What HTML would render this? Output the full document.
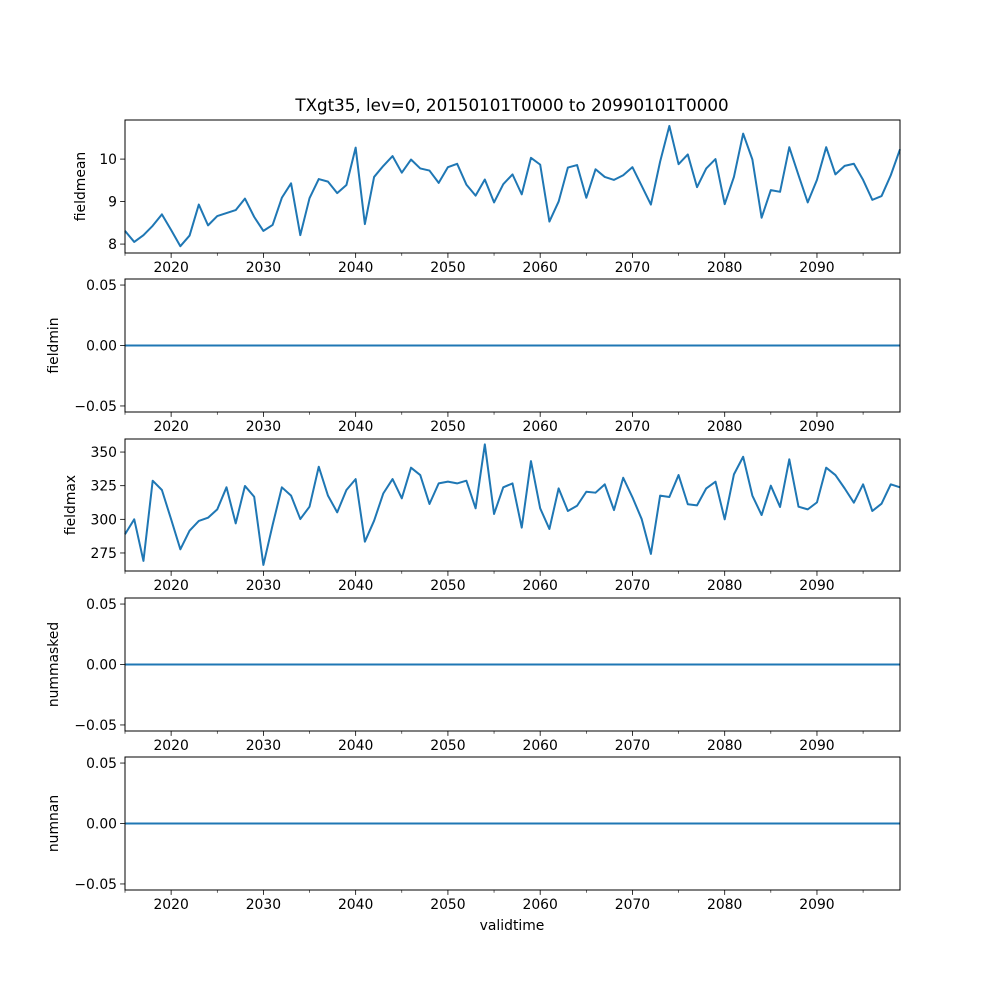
<!DOCTYPE html>
<html><head><meta charset="utf-8"><style>
body{margin:0;background:#fff}
svg{display:block;font-family:"DejaVu Sans","Liberation Sans",sans-serif}
</style></head><body>
<svg id="fig" width="1000" height="1000" viewBox="0 0 1000 1000"></svg>
<script>
const years = [];
for (let y = 2015; y <= 2099; y++) years.push(y);
const fieldmean = [8.31,8.05,8.21,8.43,8.70,8.33,7.95,8.20,8.93,8.44,8.66,8.73,8.80,9.07,8.64,8.31,8.45,9.09,9.43,8.21,9.08,9.53,9.47,9.20,9.39,10.27,8.47,9.58,9.84,10.07,9.68,9.99,9.78,9.73,9.44,9.81,9.89,9.40,9.14,9.52,8.98,9.41,9.64,9.17,10.03,9.87,8.53,9.00,9.80,9.86,9.09,9.76,9.58,9.51,9.62,9.81,9.37,8.93,9.94,10.78,9.88,10.11,9.34,9.78,10.00,8.94,9.58,10.60,9.99,8.62,9.27,9.23,10.28,9.62,8.98,9.51,10.28,9.64,9.84,9.89,9.51,9.04,9.13,9.62,10.23];
const fieldmax = [288.9,300.0,269.1,328.7,321.8,300.0,277.7,291.6,298.8,301.2,307.4,323.8,297.0,324.8,316.8,266.1,295.8,323.8,317.6,300.2,309.4,339.1,317.6,305.2,321.8,329.9,283.4,299.0,319.3,329.9,315.6,338.4,332.9,311.4,326.7,328.0,326.7,328.7,308.2,355.7,304.0,323.8,326.7,293.8,343.3,308.2,292.8,323.0,306.2,310.1,320.5,319.8,326.0,306.9,330.9,316.4,300.2,274.3,317.6,316.6,332.9,311.2,310.4,323.0,328.0,300.0,333.4,346.5,317.6,303.2,325.0,309.2,344.6,309.4,307.4,312.6,338.4,332.9,323.0,312.4,326.0,306.2,311.6,326.0,323.8];
const fieldmin = years.map(() => 0);
const nummasked = years.map(() => 0);
const numnan = years.map(() => 0);
const xTicks = [2020,2030,2040,2050,2060,2070,2080,2090];
const xMinor = [2015,2025,2035,2045,2055,2065,2075,2085,2095];
const meanTicks = [8,9,10];
const maxTicks = [275,300,325,350];
const zeroTicks = [-0.05,0,0.05];

const NS = "http://www.w3.org/2000/svg";
const svg = document.getElementById('fig');
function el(tag, attrs, parent, text) {
  const e = document.createElementNS(NS, tag);
  for (const k in attrs) e.setAttribute(k, attrs[k]);
  if (text !== undefined) e.textContent = text;
  (parent || svg).appendChild(e);
  return e;
}
const L = 125, R = 900;
const xs = v => L + (v - 2015) / (2099 - 2015) * (R - L);

const panels = [
  {name:'fieldmean', top:120, bot:253, lo:7.79, hi:10.92, data:fieldmean, ticks:meanTicks, fmt:v=>String(v), lx:85},
  {name:'fieldmin', top:279, bot:412, lo:-0.055, hi:0.055, data:fieldmin, ticks:zeroTicks, fmt:v=>v.toFixed(2).replace('-','\u2212'), lx:58},
  {name:'fieldmax', top:439, bot:571, lo:261.6, hi:359.7, data:fieldmax, ticks:maxTicks, fmt:v=>String(v), lx:75},
  {name:'nummasked', top:598, bot:731, lo:-0.055, hi:0.055, data:nummasked, ticks:zeroTicks, fmt:v=>v.toFixed(2).replace('-','\u2212'), lx:58},
  {name:'numnan', top:757, bot:890, lo:-0.055, hi:0.055, data:numnan, ticks:zeroTicks, fmt:v=>v.toFixed(2).replace('-','\u2212'), lx:58}
];

panels.forEach(p => {
  const g = el('g', {});
  
  
  const ys = v => p.bot - (v - p.lo) / (p.hi - p.lo) * (p.bot - p.top);
  const pts = p.data.map((v, i) => xs(years[i]).toFixed(2) + ',' + ys(v).toFixed(2)).join(' ');
  const line = el('polyline', {points: pts, fill:'none', stroke:'#1f77b4', 'stroke-width':2, 'stroke-linejoin':'round'}, g);
  
  
  const frame = el('rect', {x:L, y:p.top, width:R-L, height:p.bot-p.top, fill:'none', stroke:'#000', 'stroke-width':1}, g);
  
  
  xTicks.forEach(t => {
    const x = xs(t);
    el('line', {x1:x, x2:x, y1:p.bot, y2:p.bot+4.9, stroke:'#000', 'stroke-width':0.8}, g);
    const tl = el('text', {x:x, y:p.bot+19, 'text-anchor':'middle', 'font-size':'13.9'}, g, String(t));
    
    
  });
  xMinor.forEach(t => {
    const x = xs(t);
    el('line', {x1:x, x2:x, y1:p.bot, y2:p.bot+2.8, stroke:'#000', 'stroke-width':0.6}, g);
  });
  p.ticks.forEach(t => {
    const y = ys(t);
    el('line', {x1:L-4.9, x2:L, y1:y, y2:y, stroke:'#000', 'stroke-width':0.8}, g);
    const tl = el('text', {x:L-8, y:y+5, 'text-anchor':'end', 'font-size':'13.9'}, g, p.fmt(t));
    
    
  });
  const cy = (p.top + p.bot) / 2;
  const yl = el('text', {x:p.lx, y:cy, 'text-anchor':'middle', 'font-size':'13.9', transform:`rotate(-90 ${p.lx} ${cy})`}, g, p.name);
  
  
});

const title = el('text', {x:512, y:111, 'text-anchor':'middle', 'font-size':'16.7'}, svg, 'TXgt35, lev=0, 20150101T0000 to 20990101T0000');


const xl = el('text', {x:512, y:930, 'text-anchor':'middle', 'font-size':'13.9'}, svg, 'validtime');


</script>
</body></html>
